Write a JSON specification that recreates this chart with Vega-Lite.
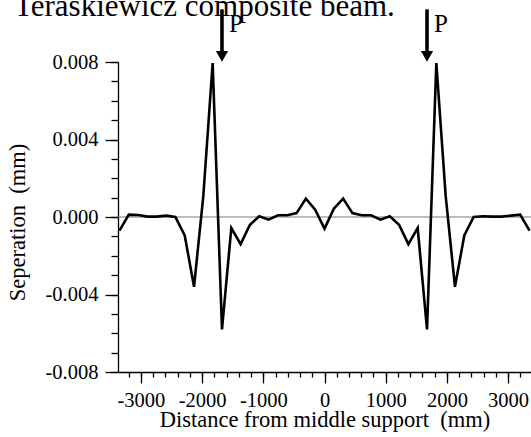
{
  "$schema": "https://vega.github.io/schema/vega-lite/v6.json",
  "width": 413,
  "height": 310,
  "autosize": {"type": "none"},
  "padding": {"left": 118, "top": 62, "right": 0, "bottom": 65},
  "background": "white",
  "title": {
    "text": "Teraskiewicz composite beam.",
    "anchor": "start",
    "frame": "group",
    "orient": "top",
    "font": "Liberation Serif",
    "fontSize": 31,
    "fontWeight": "normal",
    "color": "black",
    "baseline": "alphabetic",
    "offset": -39,
    "dx": -104,
    "dy": 0
  },
  "config": {
    "view": {"stroke": null},
    "axis": {
      "grid": false,
      "domainColor": "black",
      "tickColor": "black",
      "labelColor": "black",
      "titleColor": "black",
      "labelFont": "Liberation Serif",
      "titleFont": "Liberation Serif",
      "labelFontSize": 20.5,
      "titleFontSize": 22.5,
      "titleFontWeight": "normal",
      "domainWidth": 1.3,
      "tickWidth": 1.3
    }
  },
  "layer": [
    {
      "data": {"values": [{"ref": 0}]},
      "mark": {"type": "rule", "color": "#7a7a7a", "strokeWidth": 1.2},
      "encoding": {
        "y": {"datum": 0, "type": "quantitative", "axis": null,
              "scale": {"domain": [-0.008, 0.008], "nice": false, "zero": false}}
      }
    },
    {
      "data": {"values": [
        {"distance": -3350, "separation": -0.0007},
        {"distance": -3197.7, "separation": 0.00012},
        {"distance": -3045.5, "separation": 0.0001},
        {"distance": -2893.2, "separation": 0.00002},
        {"distance": -2740.9, "separation": 0.00002},
        {"distance": -2588.6, "separation": 0.00007},
        {"distance": -2436.4, "separation": 0.0},
        {"distance": -2284.1, "separation": -0.00095},
        {"distance": -2131.8, "separation": -0.0036},
        {"distance": -1979.5, "separation": 0.0011},
        {"distance": -1827.3, "separation": 0.00795},
        {"distance": -1675, "separation": -0.0058},
        {"distance": -1522.7, "separation": -0.00057},
        {"distance": -1370.5, "separation": -0.0014},
        {"distance": -1218.2, "separation": -0.0004},
        {"distance": -1065.9, "separation": 0.00004},
        {"distance": -913.6, "separation": -0.00014},
        {"distance": -761.4, "separation": 0.00009},
        {"distance": -609.1, "separation": 0.00009},
        {"distance": -456.8, "separation": 0.0002},
        {"distance": -304.5, "separation": 0.00095},
        {"distance": -152.3, "separation": 0.00038},
        {"distance": 0, "separation": -0.0006},
        {"distance": 152.3, "separation": 0.00043},
        {"distance": 304.5, "separation": 0.00095},
        {"distance": 456.8, "separation": 0.0002},
        {"distance": 609.1, "separation": 0.00009},
        {"distance": 761.4, "separation": 0.00009},
        {"distance": 913.6, "separation": -0.00014},
        {"distance": 1065.9, "separation": 0.00004},
        {"distance": 1218.2, "separation": -0.0004},
        {"distance": 1370.5, "separation": -0.0014},
        {"distance": 1522.7, "separation": -0.00057},
        {"distance": 1675, "separation": -0.0058},
        {"distance": 1827.3, "separation": 0.00795},
        {"distance": 1979.5, "separation": 0.0011},
        {"distance": 2131.8, "separation": -0.0036},
        {"distance": 2284.1, "separation": -0.00095},
        {"distance": 2436.4, "separation": 0.0},
        {"distance": 2588.6, "separation": 0.00004},
        {"distance": 2740.9, "separation": 0.00002},
        {"distance": 2893.2, "separation": 0.00002},
        {"distance": 3045.5, "separation": 0.00007},
        {"distance": 3197.7, "separation": 0.00012},
        {"distance": 3350, "separation": -0.0007}
      ]},
      "mark": {"type": "line", "color": "black", "strokeWidth": 2.6},
      "encoding": {
        "x": {
          "field": "distance", "type": "quantitative",
          "scale": {"domain": [-3374, 3374], "nice": false, "zero": false},
          "axis": {
            "orient": "bottom",
            "values": [-3000, -2000, -1000, 0, 1000, 2000, 3000],
            "labelExpr": "datum.value < 0 ? '-' + format(-datum.value, 'd') : format(datum.value, 'd')",
            "tickSize": 11,
            "labelPadding": 7,
            "title": "Distance from middle support\u00a0 (mm)",
            "titleBaseline": "alphabetic",
            "titleY": 54,
            "labelFlush": false,
            "labelOverlap": false
          }
        },
        "y": {
          "field": "separation", "type": "quantitative",
          "scale": {"domain": [-0.008, 0.008], "nice": false, "zero": false},
          "axis": {
            "orient": "left",
            "values": [-0.008, -0.004, 0, 0.004, 0.008],
            "labelExpr": "datum.value < 0 ? '-' + format(-datum.value, '.3f') : format(datum.value, '.3f')",
            "tickSize": 13,
            "labelPadding": 7,
            "title": "Seperation\u00a0 (mm)",
            "titleAngle": 270,
            "titleBaseline": "alphabetic",
            "titleX": -94,
            "titleY": 160,
            "labelFlush": false,
            "labelOverlap": false
          }
        }
      }
    },
    {
      "data": {"values": [
        {"x": -1675, "ytop": 0.01072, "ybot": 0.0084},
        {"x": 1675, "ytop": 0.01072, "ybot": 0.0084}
      ]},
      "mark": {"type": "rule", "color": "black", "strokeWidth": 3.6},
      "encoding": {
        "x": {
          "field": "x", "type": "quantitative",
          "scale": {"domain": [-3374, 3374], "nice": false, "zero": false},
          "axis": {
            "orient": "bottom",
            "values": [-3200, -3000, -2800, -2600, -2400, -2200, -2000, -1800, -1600, -1400, -1200, -1000, -800, -600, -400, -200, 0, 200, 400, 600, 800, 1000, 1200, 1400, 1600, 1800, 2000, 2200, 2400, 2600, 2800, 3000, 3200],
            "tickSize": 5,
            "labels": false,
            "domain": false,
            "title": null
          }
        },
        "y": {
          "field": "ytop", "type": "quantitative",
          "scale": {"domain": [-0.008, 0.008], "nice": false, "zero": false},
          "axis": {
            "orient": "left",
            "values": [-0.008, -0.007, -0.006, -0.005, -0.004, -0.003, -0.002, -0.001, 0, 0.001, 0.002, 0.003, 0.004, 0.005, 0.006, 0.007, 0.008],
            "tickSize": 7,
            "labels": false,
            "domain": false,
            "title": null
          }
        },
        "y2": {"field": "ybot"}
      }
    },
    {
      "data": {"values": [
        {"x": -1675, "y": 0.00829},
        {"x": 1675, "y": 0.00829}
      ]},
      "mark": {"type": "point", "shape": "triangle-down", "filled": true, "color": "black", "opacity": 1, "size": 150, "strokeWidth": 0},
      "encoding": {
        "x": {"field": "x", "type": "quantitative", "axis": null},
        "y": {"field": "y", "type": "quantitative", "axis": null}
      }
    },
    {
      "data": {"values": [
        {"x": -1675, "y": 0.00957, "label": "P"},
        {"x": 1675, "y": 0.00957, "label": "P"}
      ]},
      "mark": {"type": "text", "align": "left", "baseline": "alphabetic", "dx": 7, "font": "Liberation Serif", "fontSize": 25, "color": "black"},
      "encoding": {
        "x": {"field": "x", "type": "quantitative", "axis": null},
        "y": {"field": "y", "type": "quantitative", "axis": null},
        "text": {"field": "label"}
      }
    }
  ],
  "resolve": {"axis": {"x": "independent", "y": "independent"}}
}
